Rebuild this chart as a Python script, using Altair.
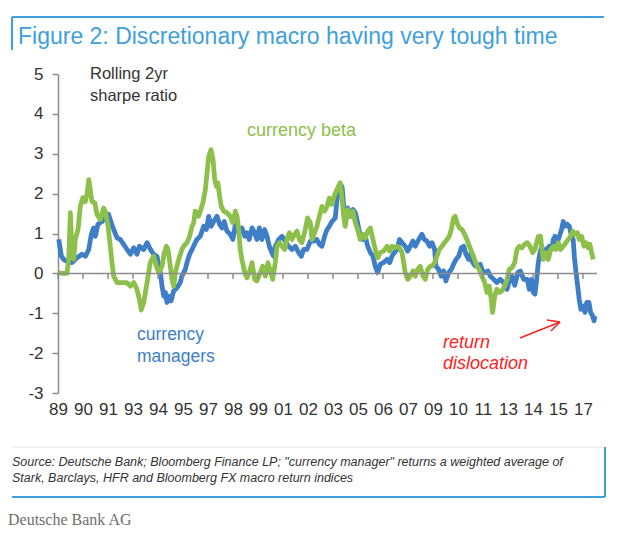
import altair as alt
import pandas as pd

# ---- data ----
blue_years = [1989.04, 1989.18, 1989.30, 1989.48, 1989.75, 1990.01, 1990.28, 1990.46, 1990.64, 1990.78,
              1990.90, 1990.99, 1991.13, 1991.35, 1991.52, 1991.70, 1991.84, 1991.97, 1992.15, 1992.32,
              1992.50, 1992.68, 1992.86, 1993.04, 1993.21, 1993.34, 1993.57,
              1993.75, 1993.93, 1994.10, 1994.28, 1994.46, 1994.55, 1994.64, 1994.73, 1994.81, 1994.90,
              1995.03, 1995.17, 1995.35, 1995.52, 1995.61, 1995.79, 1995.88, 1996.02, 1996.15, 1996.32,
              1996.41, 1996.59, 1996.77, 1996.91, 1997.04, 1997.16, 1997.30, 1997.48, 1997.62, 1997.75,
              1997.87, 1998.01, 1998.19, 1998.33, 1998.46, 1998.64,
              1998.81, 1998.96, 1999.08, 1999.20, 1999.35, 1999.49, 1999.61, 1999.74, 1999.88, 2000.02,
              2000.15, 2000.27, 2000.41, 2000.50, 2000.59, 2000.77, 2000.95, 2001.12, 2001.30, 2001.48,
              2001.66, 2001.84, 2001.98, 2002.10, 2002.28, 2002.46, 2002.64, 2002.81, 2002.94, 2003.08,
              2003.22, 2003.35, 2003.47, 2003.61, 2003.79,
              2003.88, 2003.97, 2004.06, 2004.15, 2004.24, 2004.32, 2004.45, 2004.59, 2004.73, 2004.86,
              2004.98, 2005.12, 2005.27, 2005.39, 2005.52, 2005.66, 2005.80, 2005.92, 2006.05, 2006.19,
              2006.37, 2006.55, 2006.69, 2006.81, 2006.94, 2007.08, 2007.22, 2007.35, 2007.52, 2007.65,
              2007.79, 2007.93, 2008.06, 2008.24, 2008.41, 2008.54, 2008.68, 2008.82,
              2008.95, 2009.09, 2009.16, 2009.30, 2009.44, 2009.57, 2009.69, 2009.84, 2009.98, 2010.10,
              2010.23, 2010.37, 2010.51, 2010.64, 2010.76, 2010.90, 2010.99, 2011.12, 2011.26, 2011.40,
              2011.52, 2011.65, 2011.79, 2011.93, 2012.06, 2012.24, 2012.41, 2012.59, 2012.77, 2012.95,
              2013.07, 2013.21, 2013.36, 2013.53, 2013.66, 2013.84,
              2014.03, 2014.14, 2014.26, 2014.35, 2014.44, 2014.53, 2014.62, 2014.71, 2014.80, 2014.92,
              2015.06, 2015.20, 2015.33, 2015.42, 2015.51, 2015.63, 2015.74, 2015.86, 2015.95, 2016.04,
              2016.16, 2016.27, 2016.40, 2016.48, 2016.54, 2016.63, 2016.72, 2016.80, 2016.89, 2017.02,
              2017.11, 2017.20, 2017.32, 2017.41, 2017.52, 2017.59, 2017.64]
blue_values = [0.85, 0.43, 0.35, 0.30, 0.27, 0.39, 0.48, 0.43, 0.60, 0.98,
               1.14, 0.93, 1.23, 1.30, 1.39, 1.48, 1.27, 1.10, 0.89, 0.85,
               0.73, 0.60, 0.48, 0.64, 0.48, 0.68, 0.60,
               0.77, 0.60, 0.48, 0.43, 0.02, -0.32, -0.57, -0.48, -0.73, -0.57,
               -0.69, -0.44, -0.36, -0.23, -0.07, 0.10, 0.27, 0.48, 0.60, 0.77,
               0.85, 0.93, 1.18, 1.10, 1.43, 1.18, 1.30, 1.43, 1.23, 1.14,
               1.30, 1.06, 0.98, 0.85, 1.23, 1.02,
               1.14, 0.93, 1.02, 0.85, 1.14, 1.02, 0.85, 1.14, 0.85, 1.10,
               0.93, 0.68, 0.52, 0.43, 0.68, 0.85, 0.93, 0.81, 0.68, 0.60,
               0.68, 0.52, 0.43, 0.60, 0.60, 0.81, 0.81, 0.85, 0.73, 0.68,
               0.93, 1.10, 1.18, 1.30, 1.39,
               1.85, 2.18, 1.93, 2.18, 1.68, 1.43, 1.64, 1.43, 1.60, 1.52,
               1.27, 0.93, 0.85, 0.93, 0.68, 0.52, 0.43, 0.18, 0.02, 0.23,
               0.27, 0.35, 0.27, 0.43, 0.52, 0.60, 0.85, 0.77, 0.68, 0.56,
               0.68, 0.81, 0.68, 0.85, 0.98, 0.85, 0.81, 0.68,
               0.77, 0.60, 0.18, 0.10, -0.07, 0.06, -0.19, 0.02, 0.10, 0.23,
               0.35, 0.43, 0.64, 0.68, 0.48, 0.35, 0.48, 0.27, 0.18, 0.18,
               0.23, 0.06, 0.02, 0.06, -0.07, -0.15, -0.23, -0.15, -0.23, -0.40,
               -0.20, -0.07, -0.30, 0.02, 0.06, -0.15,
               -0.15, -0.40, -0.15, -0.48, -0.52, -0.15, 0.27, 0.52, 0.68, 0.52,
               0.60, 0.68, 0.60, 0.85, 0.93, 0.77, 0.93, 1.10, 1.30, 1.18,
               1.23, 1.18, 0.93, 0.85, 0.43, 0.02, -0.32, -0.65, -0.90, -0.82,
               -0.98, -0.73, -0.73, -0.98, -1.07, -1.19, -1.07]

green_years = [1989.04, 1989.21, 1989.48, 1989.57, 1989.66, 1989.75, 1989.84, 1989.92, 1990.07, 1990.19,
               1990.32, 1990.46, 1990.55, 1990.64, 1990.72, 1990.81, 1990.96, 1991.08, 1991.26, 1991.44,
               1991.52, 1991.67, 1991.79, 1991.88, 1991.97, 1992.15, 1992.41, 1992.68, 1992.86, 1993.04,
               1993.21, 1993.34, 1993.44, 1993.57, 1993.75,
               1993.92, 1994.10, 1994.19, 1994.37, 1994.55, 1994.67, 1994.78, 1994.87, 1994.99, 1995.08,
               1995.17, 1995.26, 1995.44, 1995.61, 1995.70, 1995.88, 1996.02, 1996.15, 1996.24, 1996.32,
               1996.41, 1996.50, 1996.59, 1996.73, 1996.86, 1996.95, 1997.04, 1997.16, 1997.27, 1997.36,
               1997.45, 1997.53, 1997.62, 1997.71, 1997.84, 1998.01, 1998.19, 1998.33, 1998.46, 1998.55,
               1998.64, 1998.72,
               1998.81, 1998.96, 1999.08, 1999.20, 1999.35, 1999.49, 1999.61, 1999.79, 1999.92, 2000.06,
               2000.20, 2000.32, 2000.45, 2000.59, 2000.68, 2000.80, 2000.95, 2001.09, 2001.21, 2001.34,
               2001.48, 2001.62, 2001.75, 2001.87, 2002.01, 2002.19, 2002.31, 2002.46, 2002.55, 2002.69,
               2002.81, 2002.94, 2003.08, 2003.22, 2003.35, 2003.47, 2003.61, 2003.76,
               2003.88, 2004.06, 2004.15, 2004.24, 2004.32, 2004.45, 2004.59, 2004.73, 2004.86, 2004.98,
               2005.12, 2005.27, 2005.39, 2005.52, 2005.66, 2005.80, 2005.92, 2006.05, 2006.19, 2006.37,
               2006.55, 2006.69, 2006.81, 2006.94, 2007.08, 2007.22, 2007.35, 2007.44, 2007.52, 2007.65,
               2007.79, 2007.93, 2008.06, 2008.18, 2008.32, 2008.47, 2008.59, 2008.72, 2008.86,
               2008.95, 2009.09, 2009.21, 2009.34, 2009.48, 2009.62, 2009.75, 2009.87, 2009.98, 2010.10,
               2010.19, 2010.28, 2010.41, 2010.55, 2010.69, 2010.81, 2010.94, 2011.08, 2011.22, 2011.35,
               2011.47, 2011.61, 2011.76, 2011.88, 2012.00, 2012.11, 2012.18, 2012.29, 2012.41, 2012.54,
               2012.68, 2012.82, 2012.95, 2013.07, 2013.21, 2013.36, 2013.48, 2013.61, 2013.75, 2013.89,
               2014.03, 2014.17, 2014.32, 2014.44, 2014.53, 2014.62, 2014.74, 2014.81, 2014.88, 2015.03,
               2015.15, 2015.28, 2015.42, 2015.56, 2015.68, 2015.81, 2015.95, 2016.09, 2016.22, 2016.34,
               2016.45, 2016.57, 2016.70, 2016.80, 2016.93, 2017.05, 2017.16, 2017.28, 2017.37, 2017.46,
               2017.55]
green_values = [0.02, 0.00, 0.00, 0.35, 1.52, 0.50, 0.35, 0.85, 1.10, 1.68,
                1.90, 1.80, 2.00, 2.35, 2.10, 1.80, 1.77, 1.48, 1.35, 1.64,
                1.56, 1.18, 0.68, 0.27, -0.07, -0.23, -0.23, -0.23, -0.32, -0.23,
                -0.40, -0.65, -0.92, -0.73, -0.23,
                0.27, 0.43, 0.27, 0.02, 0.18, 0.52, 0.68, 0.60, 0.18, -0.15,
                -0.32, 0.02, 0.35, 0.60, 0.68, 0.77, 0.93, 1.18, 1.27, 1.56,
                1.52, 1.43, 1.56, 1.77, 2.10, 2.52, 2.93, 3.10, 2.85, 2.35,
                2.18, 2.27, 1.93, 1.68, 1.56, 1.52, 1.43, 1.27, 1.56, 1.43,
                1.10, 0.60,
                0.35, 0.02, -0.11, 0.02, 0.27, -0.15, -0.19, 0.02, 0.18, -0.07,
                0.27, 0.06, -0.15, 0.27, 0.68, 0.77, 0.68, 0.60, 0.85, 1.02,
                0.85, 0.98, 1.06, 0.85, 0.77, 1.10, 1.39, 1.27, 0.85, 1.02,
                1.18, 1.43, 1.68, 1.56, 1.68, 1.89, 1.73, 1.98,
                2.10, 2.27, 1.85, 1.43, 1.18, 1.60, 1.43, 1.56, 1.27, 1.10,
                0.85, 0.98, 0.89, 1.06, 1.14, 0.85, 0.60, 0.39, 0.52, 0.56,
                0.68, 0.56, 0.68, 0.64, 0.68, 0.64, 0.52, 0.27, 0.02, -0.15,
                -0.07, 0.06, -0.07, 0.10, 0.18, -0.07, -0.15, 0.10, 0.18,
                0.18, 0.27, 0.43, 0.60, 0.68, 0.77, 0.85, 0.93, 1.10, 1.39,
                1.43, 1.27, 1.14, 1.10, 0.98, 0.85, 0.68, 0.52, 0.35, 0.18,
                0.10, -0.07, -0.23, -0.48, -0.32, -0.65, -0.98, -0.57, -0.40, -0.48,
                -0.44, -0.32, -0.15, 0.10, 0.14, 0.27, 0.60, 0.68, 0.64, 0.73,
                0.77, 0.68, 0.52, 0.60, 0.77, 0.93, 0.93, 0.60, 0.35, 0.52,
                0.35, 0.60, 0.68, 0.60, 0.77, 0.60, 0.68, 0.77, 0.85, 0.93,
                1.06, 0.98, 1.02, 0.85, 0.93, 0.68, 0.77, 0.64, 0.73, 0.52,
                0.35]

tick_labels = ["89", "90", "91", "93", "94", "95", "97", "98", "99", "01", "02",
               "03", "05", "06", "07", "09", "10", "11", "13", "14", "15", "17"]
tick_years = [1989 + 16 * i / 12 for i in range(len(tick_labels))]
y_ticks = [-3, -2, -1, 0, 1, 2, 3, 4, 5]

BLUE = "#3d7ec6"
GREEN = "#8dc04a"
FRAME = "#3f9fdc"
FONT = "Liberation Sans"

blue_df = pd.DataFrame({"year": blue_years, "value": blue_values})
green_df = pd.DataFrame({"year": green_years, "value": green_values})
ticks_df = pd.DataFrame({"year": tick_years})
one_row = pd.DataFrame({"k": [0]})

xscale = alt.Scale(domain=[1989, 2017.75], nice=False, zero=False)
yscale = alt.Scale(domain=[-3, 5], nice=False, zero=False)

x_axis = alt.Axis(values=tick_years,
                  labelExpr="pad(toString(floor(datum.value + 0.01) % 100), 2, '0', 'left')",
                  domain=False, ticks=False, grid=False, title=None, labelFontSize=17,
                  labelFont=FONT, labelFontWeight="normal", labelColor="#333333", labelPadding=8,
                  labelOverlap=False, labelFlush=False, labelBound=False)
y_axis = alt.Axis(values=y_ticks, labelExpr="'' + datum.value", grid=False, title=None,
                  labelFontSize=17, labelFont=FONT, labelFontWeight="normal",
                  labelColor="#333333", labelPadding=9, tickSize=6, tickColor="#8c8c8c",
                  domainColor="#8c8c8c", domainWidth=1.5, tickWidth=1.5,
                  labelOverlap=False, labelFlush=False, labelBound=False)

line_blue = alt.Chart(blue_df).mark_line(color=BLUE, strokeWidth=4.8, strokeJoin="round").encode(
    x=alt.X("year:Q", scale=xscale, axis=x_axis),
    y=alt.Y("value:Q", scale=yscale, axis=y_axis),
)
line_green = alt.Chart(green_df).mark_line(color=GREEN, strokeWidth=4.8, strokeJoin="round").encode(
    x=alt.X("year:Q", scale=xscale, axis=x_axis),
    y=alt.Y("value:Q", scale=yscale, axis=y_axis),
)

zero_line = alt.Chart(one_row).mark_rule(color="#8c8c8c", strokeWidth=1.5).encode(
    y=alt.datum(0, scale=yscale, axis=y_axis)
)
x_tick_marks = alt.Chart(ticks_df).mark_rule(color="#8c8c8c", strokeWidth=1.5).encode(
    x=alt.X("year:Q", scale=xscale, axis=x_axis),
    y=alt.datum(0, scale=yscale, axis=y_axis),
    y2=alt.datum(-0.14),
)


def txt(s, x, y, size=17, color="#333333", style="normal", font=FONT, align="left"):
    return alt.Chart(one_row).mark_text(
        text=s, align=align, baseline="middle", fontSize=size, color=color,
        fontStyle=style, font=font, fontWeight="normal"
    ).encode(x=alt.value(x), y=alt.value(y))


def seg(x1, y1, x2, y2, color, w=1.5):
    return alt.Chart(one_row).mark_rule(color=color, strokeWidth=w).encode(
        x=alt.value(x1), y=alt.value(y1), x2=alt.value(x2), y2=alt.value(y2)
    )


annotations = [
    txt("Figure 2: Discretionary macro having very tough time", -40, -37, size=23, color=FRAME),
    seg(-46, -57, 546, -57, FRAME, 2),
    seg(-46, -57, -46, -24, FRAME, 2),
    txt("Rolling 2yr", 32, 0, size=16.5),
    txt("sharpe ratio", 32, 22, size=16.5),
    txt("currency beta", 189, 57, size=18, color=GREEN),
    txt("currency", 79, 261, size=17.5, color=BLUE),
    txt("managers", 79, 283, size=17.5, color=BLUE),
    txt("return", 385, 269, size=18, color="#ff2020", style="italic"),
    txt("dislocation", 385, 290, size=18, color="#ff2020", style="italic"),
    seg(462, 264, 502, 248, "#ff2020", 1.5),
    seg(502, 248, 489, 246, "#ff2020", 1.5),
    seg(502, 248, 493, 257, "#ff2020", 1.5),
    seg(-46, 373, 547, 373, "#e2e2e2", 1),
    seg(547, 373, 547, 423, FRAME, 2),
    seg(-46, 423, 547, 423, FRAME, 2),
    txt("Source: Deutsche Bank; Bloomberg Finance LP; \"currency manager\" returns a weighted average of",
        -46, 388, size=12.5, style="italic"),
    txt("Stark, Barclays, HFR and Bloomberg FX macro return indices", -46, 404, size=12.5, style="italic"),
    txt("Deutsche Bank AG", -50, 446, size=16, color="#6e6e6e", font="Liberation Serif"),
]

chart = alt.layer(
    line_blue, line_green, zero_line, x_tick_marks, *annotations
).properties(
    width=539, height=319,
    autosize="none",
    padding={"left": 50, "top": 66, "right": 20, "bottom": 138},
).configure(background="white", view=alt.ViewConfig(stroke=None, strokeWidth=0))

chart.save("out.html", embed_options={"renderer": "svg", "actions": False})
